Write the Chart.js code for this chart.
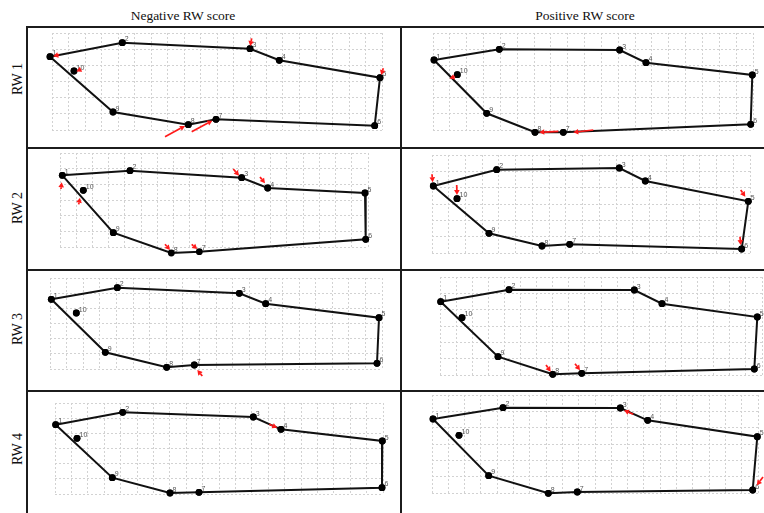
<!DOCTYPE html>
<html>
<head>
<meta charset="utf-8">
<title>Relative warps – landmark configurations</title>
<script src="https://cdn.jsdelivr.net/npm/chart.js@4.4.1/dist/chart.umd.min.js"></script>
<style>
  html, body { margin: 0; padding: 0; background: #fff; }
  #fig { position: relative; width: 764px; height: 513px; overflow: hidden; background: #fff;
         font-family: "Liberation Serif", "Times New Roman", serif; color: #111; }
  .hdr { position: absolute; top: 9px; font-size: 13.5px; line-height: 13.5px; white-space: nowrap;
         transform: translateX(-50%); }
  .rowlab { position: absolute; left: 18px; font-size: 14px; line-height: 14px; white-space: nowrap;
            transform: translate(-50%, -50%) rotate(-90deg); }
  .rule { position: absolute; background: #1c1c1c; }
  canvas { position: absolute; }
</style>
</head>
<body>
<div id="fig">
  <div class="hdr" style="left:183px">Negative RW score</div>
  <div class="hdr" style="left:585px">Positive RW score</div>
  <div class="rowlab" style="top:79px">RW 1</div>
  <div class="rowlab" style="top:208px">RW 2</div>
  <div class="rowlab" style="top:329px">RW 3</div>
  <div class="rowlab" style="top:449px">RW 4</div>
</div>
<script>
// Landmark numbers and the order in which landmarks 1–9 are joined into the outline
const landmarkNames = ['1', '2', '3', '4', '5', '6', '7', '8', '9', '10'];
const outlineOrder = [0, 1, 2, 3, 4, 5, 6, 7, 8, 0];

// Landmark configurations (x, y in digitised image units, y downwards), landmarks 1..10
const rw1Neg = [[23, 29.7], [95.3, 15.7], [223, 21.7], [252.3, 33.3], [353, 50.7], [347.7, 98.7], [189, 92.3], [161.3, 97.7], [86, 85], [47, 44]];
const rw1Pos = [[33, 33], [98.3, 22.3], [218.7, 23], [245, 35.7], [351.3, 48], [349.7, 97.3], [162.3, 105.3], [134, 105.3], [85.7, 86.3], [56.3, 47.7]];
const rw2Neg = [[35.3, 27.3], [103, 22.7], [214.7, 29.7], [240.7, 40], [338, 45], [338.7, 91.3], [172.3, 103.7], [144.3, 105], [86.3, 84.7], [56.3, 42.3]];
const rw2Pos = [[32.3, 38], [95.7, 21.7], [218.3, 20], [244.3, 33], [347.3, 53.3], [340.7, 101], [168.7, 96.3], [141, 98], [88, 85.3], [56, 50.7]];
const rw3Neg = [[24.3, 29.3], [90.3, 17.7], [212.3, 23.3], [238.7, 33.7], [352, 47.7], [350, 93.3], [167.3, 95], [139.7, 97.3], [78.3, 82.3], [49.3, 43]];
const rw3Pos = [[39.7, 31.7], [108, 19.7], [233.3, 20], [261, 33.7], [356.3, 47], [353.3, 99], [180.7, 103.3], [151.7, 104.3], [97, 86.7], [61, 47.7]];
const rw4Neg = [[28.7, 33.7], [95.7, 21.3], [226.3, 26], [254, 38.3], [355.3, 50], [355, 96.7], [172, 101.3], [143, 102], [85.3, 86.7], [50, 47.3]];
const rw4Pos = [[32, 28], [102, 16.7], [219.3, 17], [246.7, 29.3], [356.3, 45.7], [351.7, 99], [176.3, 101], [147.3, 102.3], [87.7, 84.7], [58, 44.3]];

// Displacement vectors shown as red arrows: [tailX, tailY, headX, headY]
const rw1NegArrows = [[32.3, 27.6, 26.2, 29.2], [224.7, 11.3, 223.2, 19], [53.5, 42.6, 49.5, 44.6], [356.3, 41.3, 354.2, 48], [138, 109.7, 158, 99], [164.7, 104.7, 185.3, 93.7]];
const rw1PosArrows = [[192.3, 103, 172.3, 105.3], [157.3, 104.3, 138.3, 105.3], [54, 49.5, 48.5, 51.5]];
const rw2NegArrows = [[34, 41, 34.7, 34.3], [51.7, 56.3, 53, 49.7], [206.3, 21, 212, 27.7], [233, 29, 238, 35.3], [138, 96.3, 143, 102], [164.7, 96.3, 170.3, 101]];
const rw2PosArrows = [[31, 26.3, 31.7, 34.3], [55.7, 37, 56, 47], [339.7, 42, 344.3, 48.7], [339, 88.7, 339.7, 97]];
const rw3NegArrows = [[175.3, 106, 170.3, 100]];
const rw3PosArrows = [[145, 95, 149.7, 101.7], [174, 93.7, 179, 100.3]];
const rw4NegArrows = [[242.3, 33.3, 250.3, 36.7]];
const rw4PosArrows = [[232.3, 23.3, 223, 19.3], [362, 86, 355.8, 94.2]];

// Panel cells of the table and the extent of each deformation grid [x0, x1, y0, y1]
const panels = [
  { left: 27,  top: 27,  w: 374, h: 121, shape: rw1Neg, arrows: rw1NegArrows, grid: [25, 355, 6, 103] },
  { left: 401, top: 27,  w: 363, h: 121, shape: rw1Pos, arrows: rw1PosArrows, grid: [32, 352, 6, 103] },
  { left: 27,  top: 148, w: 374, h: 122, shape: rw2Neg, arrows: rw2NegArrows, grid: [33, 341, 5, 99] },
  { left: 401, top: 148, w: 363, h: 122, shape: rw2Pos, arrows: rw2PosArrows, grid: [31, 349, 7, 105] },
  { left: 27,  top: 270, w: 374, h: 121, shape: rw3Neg, arrows: rw3NegArrows, grid: [23, 355, 8, 99] },
  { left: 401, top: 270, w: 363, h: 121, shape: rw3Pos, arrows: rw3PosArrows, grid: [39, 361, 7, 105] },
  { left: 27,  top: 391, w: 374, h: 122, shape: rw4Neg, arrows: rw4NegArrows, grid: [28, 356, 12, 103] },
  { left: 401, top: 391, w: 363, h: 122, shape: rw4Pos, arrows: rw4PosArrows, grid: [31, 357, 4, 102] }
];

const CELL = 16.5;     // approximate spacing of the deformation grid
const DOT_R = 3.4;     // landmark marker radius

// Evenly spaced grid lines across the grid extent
function cellTicks(scale) {
  const span = scale.max - scale.min;
  const n = Math.max(1, Math.round(span / CELL));
  scale.ticks = Array.from({ length: n + 1 }, (_, k) => ({ value: scale.min + span * k / n }));
}

// Landmark markers (also those lying just outside the grid) and their small numbers
const landmarkPlugin = {
  id: 'landmarkMarkers',
  afterDatasetsDraw(chart) {
    const meta = chart.getDatasetMeta(1);
    const ctx = chart.ctx;
    ctx.save();
    ctx.fillStyle = '#000';
    meta.data.forEach(pt => {
      ctx.beginPath();
      ctx.arc(pt.x, pt.y, DOT_R, 0, Math.PI * 2);
      ctx.fill();
    });
    ctx.font = '7px "Liberation Sans", Arial, sans-serif';
    ctx.fillStyle = '#555';
    ctx.textAlign = 'left';
    ctx.textBaseline = 'middle';
    meta.data.forEach((pt, i) => ctx.fillText(landmarkNames[i], pt.x + 2.5, pt.y - 3.3));
    ctx.restore();
  }
};

function arrowPlugin(list) {
  return {
    id: 'displacementArrows',
    afterDatasetsDraw(chart) {
      const { ctx, scales: { x, y } } = chart;
      ctx.save();
      ctx.strokeStyle = '#ff1a1a';
      ctx.fillStyle = '#ff1a1a';
      ctx.lineWidth = 1.7;
      list.forEach(([x1, y1, x2, y2]) => {
        const ax = x.getPixelForValue(x1), ay = y.getPixelForValue(y1);
        const bx = x.getPixelForValue(x2), by = y.getPixelForValue(y2);
        const ang = Math.atan2(by - ay, bx - ax);
        const hl = 5, hw = 2.8;
        const cx = bx - hl * Math.cos(ang), cy = by - hl * Math.sin(ang);
        ctx.beginPath();
        ctx.moveTo(ax, ay);
        ctx.lineTo(cx, cy);
        ctx.stroke();
        ctx.beginPath();
        ctx.moveTo(bx, by);
        ctx.lineTo(cx + hw * Math.sin(ang), cy - hw * Math.cos(ang));
        ctx.lineTo(cx - hw * Math.sin(ang), cy + hw * Math.cos(ang));
        ctx.closePath();
        ctx.fill();
      });
      ctx.restore();
    }
  };
}

const fig = document.getElementById('fig');

panels.forEach(p => {
  const cv = document.createElement('canvas');
  cv.width = p.w;
  cv.height = p.h;
  cv.style.left = p.left + 'px';
  cv.style.top = p.top + 'px';
  fig.appendChild(cv);
  const [gx0, gx1, gy0, gy1] = p.grid;
  const gridAxis = (min, max, reverse) => ({
    type: 'linear', min, max, reverse,
    ticks: { display: false },
    grid: { color: '#d2d2d2', lineWidth: 1, drawTicks: false },
    border: { display: false, dash: [2, 2] },
    afterBuildTicks: cellTicks
  });
  new Chart(cv, {
    type: 'scatter',
    data: {
      datasets: [
        {
          data: outlineOrder.map(i => ({ x: p.shape[i][0], y: p.shape[i][1] })),
          showLine: true, borderColor: '#111', borderWidth: 2, pointRadius: 0,
          tension: 0, clip: false, order: 2
        },
        {
          data: p.shape.map(([x, y]) => ({ x, y })),
          showLine: false, pointRadius: DOT_R, backgroundColor: '#000', borderWidth: 0,
          clip: false, order: 1
        }
      ]
    },
    options: {
      responsive: false, animation: false, devicePixelRatio: 1, events: [],
      layout: { autoPadding: false, padding: { left: gx0, right: p.w - gx1, top: gy0, bottom: p.h - gy1 } },
      plugins: { legend: { display: false }, tooltip: { enabled: false } },
      scales: { x: gridAxis(gx0, gx1, false), y: gridAxis(gy0, gy1, true) }
    },
    plugins: [landmarkPlugin, arrowPlugin(p.arrows)]
  });
});

// Table rules
const rules = [
  { l: 26, t: 26, w: 738, h: 2 },
  { l: 26, t: 147, w: 738, h: 2 },
  { l: 26, t: 269, w: 738, h: 2 },
  { l: 26, t: 390, w: 738, h: 2 },
  { l: 26, t: 26, w: 2, h: 487 },
  { l: 400, t: 26, w: 2, h: 487 }
];
rules.forEach(r => {
  const d = document.createElement('div');
  d.className = 'rule';
  Object.assign(d.style, { left: r.l + 'px', top: r.t + 'px', width: r.w + 'px', height: r.h + 'px' });
  fig.appendChild(d);
});
</script>
</body>
</html>
